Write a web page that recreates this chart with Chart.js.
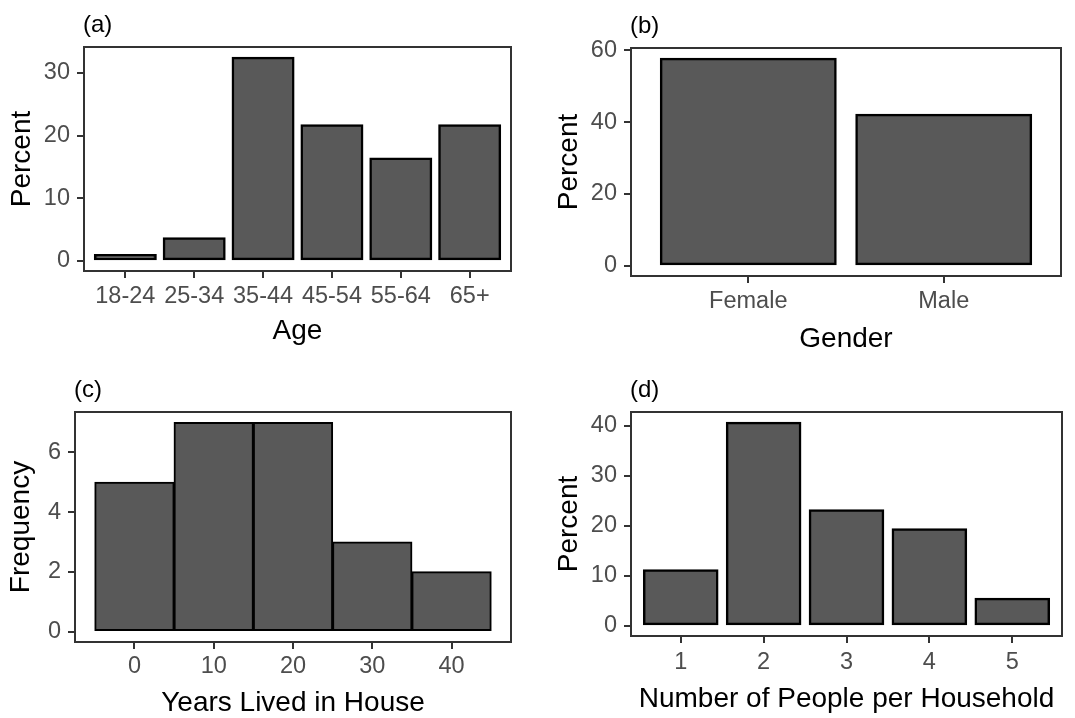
<!DOCTYPE html>
<html>
<head>
<meta charset="utf-8">
<script src="https://cdn.jsdelivr.net/npm/chart.js@4.4.1/dist/chart.umd.min.js"></script>
<style>
  html, body { margin: 0; padding: 0; background: #ffffff; }
  #fig { position: relative; width: 1075px; height: 718px; overflow: hidden; }
  #fig canvas { position: absolute; }
</style>
</head>
<body>
<div id="fig">
  <canvas id="panelA" width="540" height="360" style="left:0px;top:0px"></canvas>
  <canvas id="panelB" width="535" height="360" style="left:540px;top:0px"></canvas>
  <canvas id="panelC" width="540" height="358" style="left:0px;top:360px"></canvas>
  <canvas id="panelD" width="535" height="358" style="left:540px;top:360px"></canvas>
</div>
<script>
// ---- survey data ----
const ageGroups = ['18-24', '25-34', '35-44', '45-54', '55-64', '65+'];
const agePercent = [1.0, 3.7, 32.5, 21.7, 16.4, 21.7];
const ageTicksY = [0, 10, 20, 30];

const genders = ['Female', 'Male'];
const genderPercent = [57.8, 42.2];
const genderTicksY = [0, 20, 40, 60];

const yearsBinCenters = [0, 10, 20, 30, 40];
const yearsBinWidth = 10;
const yearsFrequency = [5, 7, 7, 3, 2];
const yearsTicksX = [0, 10, 20, 30, 40];
const yearsTicksY = [0, 2, 4, 6];

const householdSizes = ['1', '2', '3', '4', '5'];
const householdPercent = [11.2, 40.7, 23.2, 19.4, 5.5];
const householdTicksY = [0, 10, 20, 30, 40];

// ---- look ----
const FONT = "'Liberation Sans', Arial, Helvetica, sans-serif";
const TICK_COLOR = '#4D4D4D';
const LINE_COLOR = '#333333';
const BAR_FILL = '#595959';
const TICK_FONT = 23.5;
const TITLE_FONT = 28;
const TAG_FONT = 24;
Chart.defaults.font.family = FONT;

// ggplot-style 5% padding of a continuous range
function expand(lo, hi, frac) {
  const d = (hi - lo) * frac;
  return [lo - d, hi + d];
}

// box around the plotting region
const panelFrame = {
  id: 'panelFrame',
  afterDatasetsDraw(chart) {
    const { ctx, chartArea: a } = chart;
    ctx.save();
    ctx.strokeStyle = LINE_COLOR;
    ctx.lineWidth = 2;
    ctx.strokeRect(a.left, a.top, a.right - a.left, a.bottom - a.top);
    ctx.restore();
  }
};

// "(a)", "(b)" ... label above each panel
const panelTag = {
  id: 'panelTag',
  afterDraw(chart, args, opts) {
    const { ctx, chartArea: a } = chart;
    ctx.save();
    ctx.font = TAG_FONT + 'px ' + FONT;
    ctx.fillStyle = '#000000';
    ctx.textAlign = 'left';
    ctx.textBaseline = 'middle';
    ctx.fillText(opts.text, a.left - 1, a.top - 22);
    ctx.restore();
  }
};

function makePanel(canvasId, spec, geom) {
  const yRange = expand(0, Math.max(...spec.values), 0.05);
  const points = spec.values.map((v, i) => ({ x: spec.positions[i], y: v }));
  const axisGrid = () => ({
    display: true, drawOnChartArea: false, drawTicks: true, offset: false,
    tickLength: 7, color: LINE_COLOR, lineWidth: 2
  });
  return new Chart(document.getElementById(canvasId), {
    type: 'bar',
    data: {
      datasets: [{
        data: points,
        backgroundColor: BAR_FILL,
        borderColor: '#000000',
        borderWidth: spec.outline,
        borderSkipped: false,
        inflateAmount: 0.5,
        barPercentage: spec.barPct,
        categoryPercentage: 1
      }]
    },
    options: {
      responsive: false,
      animation: false,
      devicePixelRatio: 1,
      layout: { padding: { top: geom.top, right: geom.right, left: 0, bottom: 0 } },
      plugins: {
        legend: { display: false },
        tooltip: { enabled: false },
        panelTag: { text: spec.tag }
      },
      scales: {
        x: {
          type: 'linear',
          min: spec.xRange[0],
          max: spec.xRange[1],
          offset: false,
          afterFit(s) { s.height = geom.xHeight; },
          afterBuildTicks(s) { s.ticks = spec.xTicks.map(v => ({ value: v })); },
          ticks: {
            callback: (v) => spec.xLabel(v),
            color: TICK_COLOR, font: { size: TICK_FONT }, padding: geom.xTickPad,
            maxRotation: 0, autoSkip: false
          },
          grid: axisGrid(),
          border: { display: false },
          title: {
            display: true, text: spec.xTitle, color: '#000000',
            font: { size: TITLE_FONT }, padding: { top: 0, bottom: geom.xTitlePad }
          }
        },
        y: {
          type: 'linear',
          min: yRange[0],
          max: yRange[1],
          afterFit(s) { s.width = geom.yWidth; },
          afterBuildTicks(s) { s.ticks = spec.yTicks.map(v => ({ value: v })); },
          ticks: { color: TICK_COLOR, font: { size: TICK_FONT }, padding: 7 },
          grid: axisGrid(),
          border: { display: false },
          title: {
            display: true, text: spec.yTitle, color: '#000000',
            font: { size: TITLE_FONT }, padding: { top: geom.yTitlePad, bottom: 0 }
          }
        }
      }
    },
    plugins: [panelFrame, panelTag]
  });
}

// discrete axis: categories at 1..n with 0.6 units of room on each side
function discreteSpec(labels, values) {
  return {
    positions: labels.map((_, i) => i + 1),
    xRange: [0.4, labels.length + 0.6],
    xTicks: labels.map((_, i) => i + 1),
    xLabel: (v) => labels[v - 1],
    values: values,
    barPct: 0.9,
    outline: 2.5
  };
}

makePanel('panelA', Object.assign(discreteSpec(ageGroups, agePercent), {
  tag: '(a)', xTitle: 'Age', yTitle: 'Percent', yTicks: ageTicksY
}), { top: 47, right: 29, yWidth: 84, xHeight: 89, xTickPad: 4, xTitlePad: 12, yTitlePad: 5.5 });

makePanel('panelB', Object.assign(discreteSpec(genders, genderPercent), {
  tag: '(b)', xTitle: 'Gender', yTitle: 'Percent', yTicks: genderTicksY
}), { top: 48, right: 14, yWidth: 91, xHeight: 84, xTickPad: 4.5, xTitlePad: 4, yTitlePad: 12 });

// histogram: 10-year bins centred on the tick values
const yearsEdges = [yearsBinCenters[0] - yearsBinWidth / 2,
                    yearsBinCenters[yearsBinCenters.length - 1] + yearsBinWidth / 2];
makePanel('panelC', {
  positions: yearsBinCenters,
  xRange: expand(yearsEdges[0], yearsEdges[1], 0.05),
  xTicks: yearsTicksX,
  xLabel: (v) => String(v),
  values: yearsFrequency,
  barPct: 1,
  outline: 2,
  tag: '(c)', xTitle: 'Years Lived in House', yTitle: 'Frequency', yTicks: yearsTicksY
}, { top: 52, right: 29, yWidth: 75, xHeight: 76, xTickPad: 3.5, xTitlePad: -2.5, yTitlePad: 4.5 });

makePanel('panelD', Object.assign(discreteSpec(householdSizes, householdPercent), {
  tag: '(d)', xTitle: 'Number of People per Household', yTitle: 'Percent', yTicks: householdTicksY
}), { top: 52, right: 13, yWidth: 91, xHeight: 82, xTickPad: 5, xTitlePad: 1.5, yTitlePad: 12 });
</script>
</body>
</html>
